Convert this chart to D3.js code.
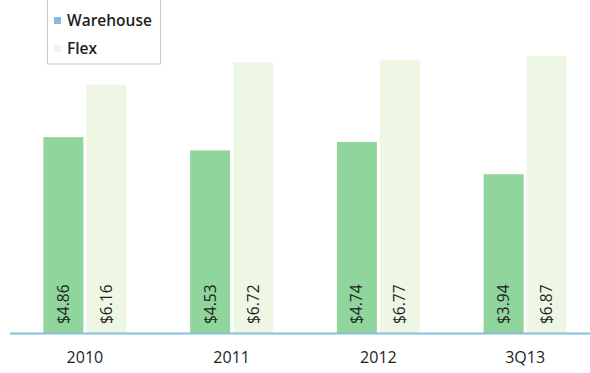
<!DOCTYPE html>
<html>
<head>
<meta charset="utf-8">
<script src="https://cdn.jsdelivr.net/npm/d3@7/dist/d3.min.js"></script>
<style>
  html, body { margin: 0; padding: 0; background: #fff; }
  svg { display: block; font-family: "Open Sans", "Noto Sans", sans-serif; }
</style>
</head>
<body>
<svg id="chart" width="590" height="373"></svg>
<script>
// Average asking rent ($/sq ft) by period
const categories = ["2010", "2011", "2012", "3Q13"];
const seriesNames = ["Warehouse", "Flex"];
const warehouse = [4.86, 4.53, 4.74, 3.94];
const flex = [6.16, 6.72, 6.77, 6.87];
const valueLabels = [["$4.86", "$4.53", "$4.74", "$3.94"], ["$6.16", "$6.72", "$6.77", "$6.87"]];

const seriesValues = [warehouse, flex];
const barColors = ["#8fd59c", "#eef7e3"];
const legendColors = ["#8ab6dc", "#f1f5ee"];

const svg = d3.select("#chart");
const baseY = 333;

const x0 = d3.scaleBand().domain(categories).range([11.5, 598.5]).padding(0);
const x1 = d3.scaleBand().domain(seriesNames).range([-41.5, 41.5]).paddingInner(0.07).paddingOuter(0);
const y = d3.scaleLinear().domain([0, 7]).range([baseY, baseY - 7 * 40.3]);

const rows = categories.map((c, i) => ({
  cat: c,
  bars: seriesNames.map((s, j) => ({ series: s, idx: j, value: seriesValues[j][i], label: valueLabels[j][i] }))
}));

const groups = svg.append("g").selectAll("g.grp")
  .data(rows).join("g")
  .attr("class", "grp")
  .attr("transform", d => `translate(${x0(d.cat) + x0.bandwidth() / 2},0)`);

groups.selectAll("rect")
  .data(d => d.bars).join("rect")
  .attr("x", d => x1(d.series))
  .attr("width", x1.bandwidth())
  .attr("y", d => y(d.value))
  .attr("height", d => y(0) - y(d.value))
  .attr("fill", d => barColors[d.idx]);

// value labels, rotated, reading upward from the bar base
groups.selectAll("text.val")
  .data(d => d.bars).join("text")
  .attr("class", "val")
  .attr("transform", d => `translate(${x1(d.series) + x1.bandwidth() / 2 + 5.5},${baseY - 9}) rotate(-90)`)
  .attr("text-anchor", "start")
  .attr("font-size", 15.5)
  .attr("fill", "#1e1e1e")
  .text(d => d.label);

// baseline axis
const xAxis = d3.axisBottom(x0).tickSize(0).tickPadding(19);
const axisG = svg.append("g").attr("transform", `translate(0,${baseY})`).call(xAxis);
axisG.select(".domain").remove();
axisG.selectAll("text").attr("font-size", 16).attr("fill", "#1e1e1e").attr("font-family", "Open Sans, sans-serif");
svg.append("line")
  .attr("x1", 10).attr("x2", 590)
  .attr("y1", baseY + 0.5).attr("y2", baseY + 0.5)
  .attr("stroke", "#86c0dc").attr("stroke-width", 2);

// legend
const legend = svg.append("g");
legend.append("rect")
  .attr("x", 47.5).attr("y", -2).attr("width", 113).attr("height", 66)
  .attr("fill", "#fff").attr("stroke", "#b9cbe0").attr("stroke-width", 1);
const items = legend.selectAll("g.item").data(seriesNames).join("g")
  .attr("class", "item")
  .attr("transform", (d, i) => `translate(54,${21 + i * 28})`);
items.append("rect")
  .attr("x", 0).attr("y", -4).attr("width", 7).attr("height", 7)
  .attr("fill", (d, i) => legendColors[i]);
items.append("text")
  .attr("x", 13).attr("y", 0).attr("dy", "0.35em")
  .attr("font-size", 15.5).attr("font-weight", 600).attr("fill", "#1e1e1e")
  .text(d => d);
</script>
</body>
</html>
